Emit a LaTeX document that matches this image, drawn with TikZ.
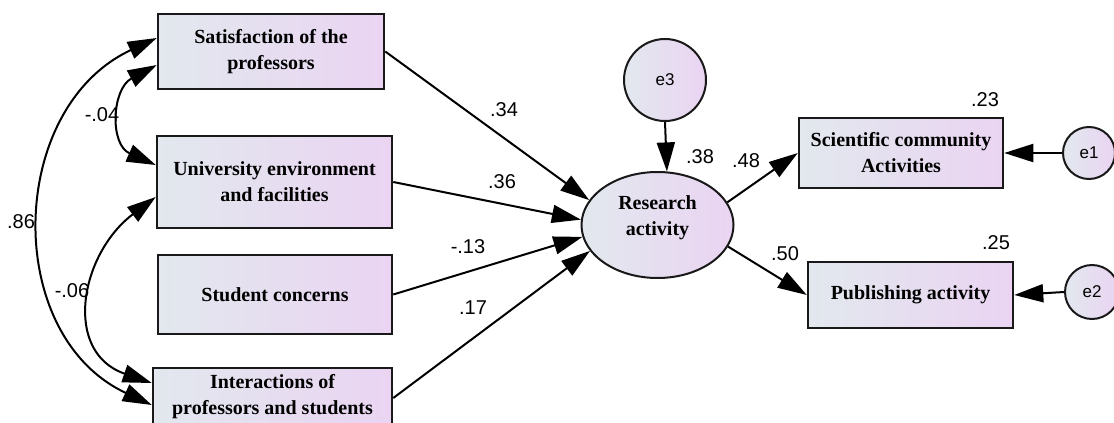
\documentclass[tikz,border=0pt]{standalone}
\usepackage{fontspec}
\setmainfont{Liberation Serif}
\newfontfamily\labelfont{Liberation Sans}
\usepackage{tikz}
\usetikzlibrary{shapes}
\usetikzlibrary{arrows.meta}
\definecolor{boxleft}{RGB}{226,232,238}
\definecolor{boxright}{RGB}{234,212,242}
\tikzset{
  var node/.style={rectangle,draw=black!90,line width=2.5pt,left color=boxleft,right color=boxright,
    align=center,font=\bfseries\fontsize{20}{26}\selectfont},
  latent node/.style={ellipse,draw=black!90,line width=2pt,left color=boxleft,right color=boxright,
    inner sep=0pt},
  err node/.style={circle,draw=black!90,line width=2pt,left color=boxleft,right color=boxright,
    inner sep=0pt,font=\labelfont\fontsize{17}{19}\selectfont},
  coef/.style={inner sep=0pt,font=\labelfont\fontsize{20}{22}\selectfont},
  path/.style={line width=2pt,-{Triangle[length=29pt,width=18pt]}},
  covar/.style={line width=2pt,{Triangle[length=29pt,width=18pt]}-{Triangle[length=29pt,width=18pt]}}
}
\begin{document}
\begin{tikzpicture}[x=1pt,y=1pt]
        \useasboundingbox (0,0) rectangle (1114,-423);
        \clip (0,0) rectangle (1114,-423);
        % observed predictors
        \node [var node,minimum width=226pt,minimum height=75pt] (sat) at (271,-51.5) {Satisfaction of the\\professors};
        \node [var node,minimum width=235pt,minimum height=92pt] (univ) at (274.5,-182) {University environment\\and facilities};
        \node [var node,minimum width=234pt,minimum height=79pt] (stud) at (275,-294.5) {Student concerns};
        \node [var node,minimum width=239pt,minimum height=58pt] (inter) at (272.5,-397) {Interactions of\\professors and students};
        % latent variable and outcomes
        \node [latent node,minimum width=152pt,minimum height=106pt,
          label={[align=center,font=\bfseries\fontsize{20}{26}\selectfont,yshift=7pt]center:Research\\activity}] (res) at (657.5,-225) {};
        \node [err node,minimum size=82pt] (e3) at (665,-80) {e3};
        \node [var node,minimum width=204pt,minimum height=70pt] (sci) at (901,-153) {Scientific community\\Activities};
        \node [var node,minimum width=205pt,minimum height=66pt] (pub) at (910.5,-295) {Publishing activity};
        \node [err node,minimum size=52pt] (e1) at (1089,-153) {e1};
        \node [err node,minimum size=54pt] (e2) at (1092,-292) {e2};

        \draw [path] (sat.east) -- (res.160);
        \draw [path] (univ.east) -- (res.176);
        \draw [path] (stud.east) -- (res.189);
        \draw [path] ([yshift=-1pt]inter.east) -- (res.201);
        \draw [path] (e3.south) -- (res.80);
        \draw [path] (res.18) -- (sci.west);
        \draw [path] (res.343) -- (pub.west);
        \draw [path] (e1.west) -- (sci.east);
        \draw [path] (e2.west) -- (pub.east);

        \draw [covar] ([yshift=13.5pt]sat.west) to[out=205,in=155,looseness=1.15] ([yshift=-8pt]inter.west);
        \draw [covar] ([yshift=-13.5pt]sat.west) to[out=208,in=156,looseness=1.3] ([yshift=17pt]univ.west);
        \draw [covar] ([yshift=-15pt]univ.west) to[out=217,in=161,looseness=1.3] ([yshift=14pt]inter.west);

        \node [coef] (c1) at (504,-110) {.34};
        \node [coef] (c2) at (502,-182) {.36};
        \node [coef] (c3) at (468,-247) {-.13};
        \node [coef] (c4) at (473,-308) {.17};
        \node [coef] (r1) at (700,-157) {.38};
        \node [coef] (c5) at (746,-161) {.48};
        \node [coef] (c6) at (785,-254) {.50};
        \node [coef] (r2) at (985,-100) {.23};
        \node [coef] (r3) at (996,-243) {.25};
        \node [coef] (k1) at (21,-222) {.86};
        \node [coef] (k2) at (102,-115) {-.04};
        \node [coef] (k3) at (72,-291) {-.06};
\end{tikzpicture}
\end{document}
